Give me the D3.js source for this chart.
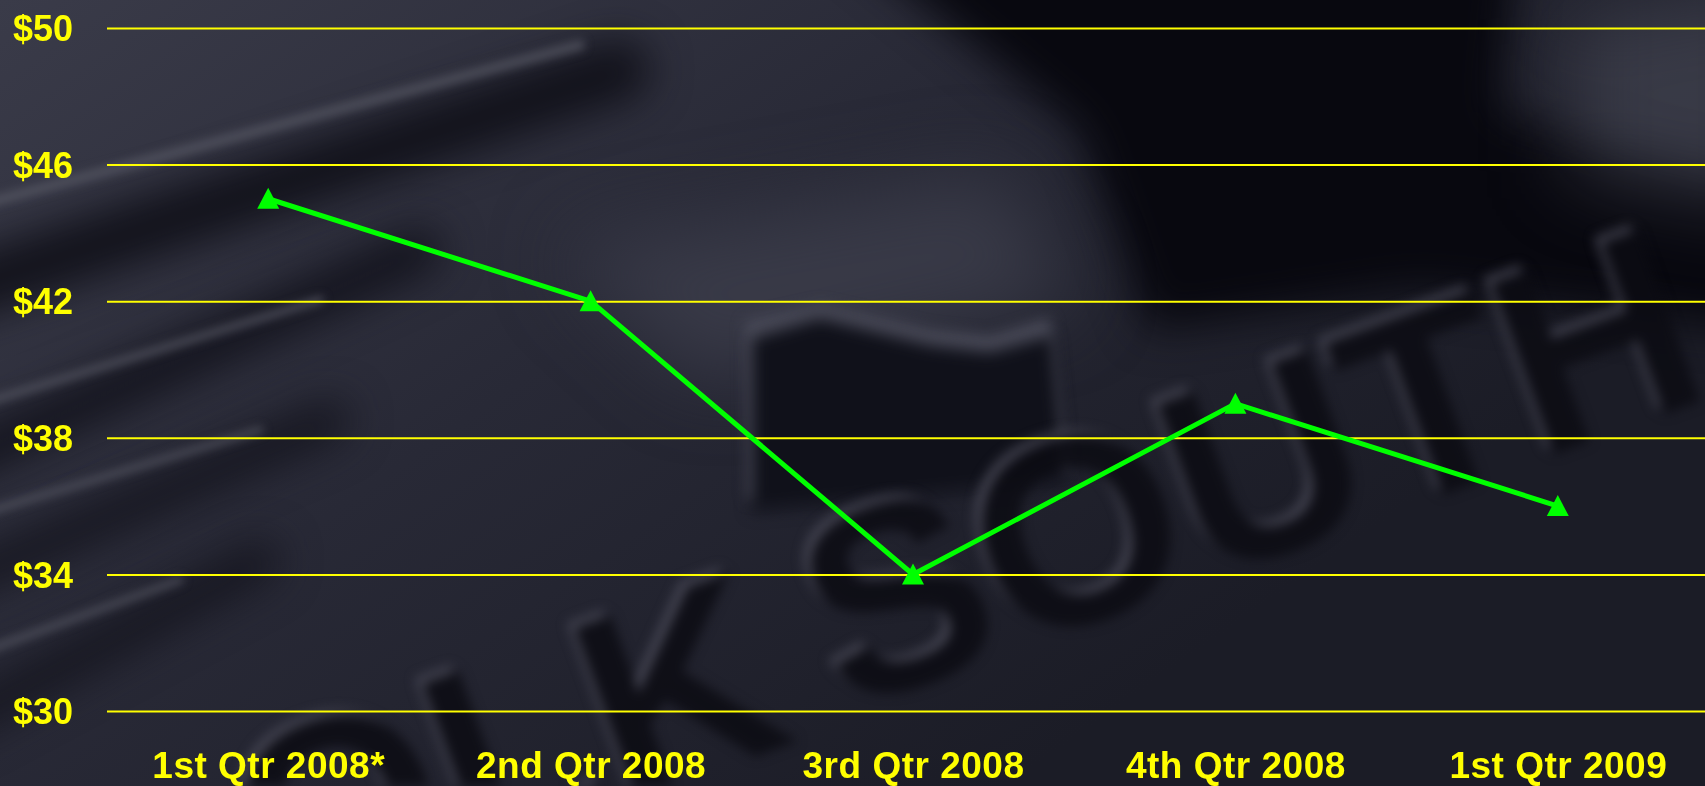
<!DOCTYPE html>
<html>
<head>
<meta charset="utf-8">
<script src="https://cdn.jsdelivr.net/npm/d3@7"></script>
<style>
  html, body { margin: 0; padding: 0; background: #1c1d28; overflow: hidden; }
  #wrap { position: relative; width: 1705px; height: 786px; }
  #bgc, #chart { position: absolute; left: 0; top: 0; display: block; }
</style>
</head>
<body>
<div id="wrap">
  <canvas id="bgc" width="1705" height="786"></canvas>
  <svg id="chart" width="1705" height="786"></svg>
</div>
<script>
// ── Data ────────────────────────────────────────────────────────────────
const quarters = ['1st Qtr 2008*', '2nd Qtr 2008', '3rd Qtr 2008', '4th Qtr 2008', '1st Qtr 2009'];
const prices   = [45, 42, 34, 39, 36];
const yTicks   = [30, 34, 38, 42, 46, 50];

const W = 1705, H = 786;
const font = 'Liberation Sans, Arial, Helvetica, sans-serif';

// ── Background: dark blurred slide picture, painted on a canvas ────────
(function drawBackground() {
  const ctx = document.getElementById('bgc').getContext('2d');
  const g = ctx.createLinearGradient(0, 0, 700, 1000);
  g.addColorStop(0, '#3a3b49');
  g.addColorStop(0.5, '#282936');
  g.addColorStop(1, '#1b1c26');
  ctx.fillStyle = g;
  ctx.fillRect(0, 0, W, H);

  const poly = (pts, fill, blurPx, alpha = 1) => {
    ctx.save();
    ctx.filter = `blur(${blurPx}px)`;
    ctx.globalAlpha = alpha;
    ctx.fillStyle = fill;
    ctx.beginPath();
    pts.forEach(([px, py], i) => i ? ctx.lineTo(px, py) : ctx.moveTo(px, py));
    ctx.closePath();
    ctx.fill();
    ctx.restore();
  };
  const streak = (x1, y1, x2, y2, w, c, blurPx, alpha) => {
    ctx.save();
    ctx.filter = `blur(${blurPx}px)`;
    ctx.globalAlpha = alpha;
    ctx.strokeStyle = c; ctx.lineWidth = w; ctx.lineCap = 'round';
    ctx.beginPath(); ctx.moveTo(x1, y1); ctx.lineTo(x2, y2); ctx.stroke();
    ctx.restore();
  };

  // dark upper-right region and lighter corner
  poly([[820, -80], [1520, -80], [1500, 110], [1780, 190], [1780, 330], [1420, 290], [1150, 330], [1080, 130]], '#08080f', 22);
  poly([[1570, 20], [1780, -20], [1780, 210], [1570, 170]], '#4a4b58', 40, 0.6);
  // lighter plane in the middle
  poly([[560, 250], [1000, 170], [1080, 300], [700, 380]], '#3d3e4c', 40, 0.8);
  // logo oval: light rim + dark body
  poly([[745, 322], [820, 305], [930, 330], [990, 336], [1050, 318], [1066, 470], [748, 500]], '#4b4c5a', 7);
  poly([[752, 338], [820, 318], [930, 345], [990, 352], [1052, 335], [1066, 482], [752, 512]], '#10111a', 8);

  // dark bands and light streaks on the left
  streak(-40, 290, 620, 70, 60, '#0a0a12', 20, 0.8);
  streak(-40, 460, 420, 250, 45, '#0d0d15', 20, 0.8);
  streak(-40, 580, 330, 420, 40, '#101019', 20, 0.8);
  streak(-40, 720, 260, 560, 40, '#11121a', 20, 0.8);
  streak(-40, 210, 580, 45, 10, '#585966', 5, 0.75);
  streak(-40, 410, 320, 300, 8, '#585966', 5, 0.75);
  streak(-40, 520, 260, 430, 7, '#585966', 5, 0.75);
  streak(-40, 660, 180, 580, 7, '#585966', 5, 0.75);

  // big logo letters: drawn crisp off-screen, then blurred onto the page
  const off = document.createElement('canvas');
  off.width = W; off.height = H;
  const o = off.getContext('2d');
  const letters = (x0, y0, align, txt) => {
    o.save();
    o.translate(x0, y0);
    o.rotate(-20 * Math.PI / 180);
    o.font = `bold 265px ${font}`;
    o.textAlign = align;
    o.fillStyle = '#50515f';
    o.fillText(txt, -5, -7);
    o.fillStyle = '#0c0c13';
    o.fillText(txt, 0, 0);
    o.restore();
  };
  letters(800, 740, 'right', 'OLK');
  letters(845, 712, 'left', 'SOUTH');
  ctx.save();
  ctx.filter = 'blur(6px)';
  ctx.globalAlpha = 0.85;
  ctx.drawImage(off, 0, 0);
  ctx.restore();
})();

// ── Chart ───────────────────────────────────────────────────────────────
const svg = d3.select('#chart');
const left = 107;
const x = d3.scalePoint().domain(quarters).range([left, 1719]).padding(0.5);
const y = d3.scaleLinear().domain([30, 50]).range([711, 28]);

// gridlines + y labels
const yAxis = d3.axisLeft(y).tickValues(yTicks).tickSize(-(W - left)).tickFormat(d => '$' + d);
const gy = svg.append('g').attr('transform', `translate(${left},0)`).call(yAxis);
gy.select('.domain').remove();
gy.selectAll('.tick line').attr('stroke', '#ffff00').attr('stroke-width', 2);
gy.selectAll('.tick text')
  .attr('x', -34).attr('dy', '0.35em')
  .attr('fill', '#ffff00').attr('font-family', font).attr('font-weight', 'bold').attr('font-size', 36)
  .attr('text-anchor', 'end');

// x labels
const xAxis = d3.axisBottom(x).tickSize(0).tickPadding(0);
const gx = svg.append('g').attr('transform', 'translate(0,750)').call(xAxis);
gx.select('.domain').remove();
gx.selectAll('.tick text')
  .attr('y', 28).attr('dy', 0)
  .attr('fill', '#ffff00').attr('font-family', font).attr('font-weight', 'bold').attr('font-size', 37)
  .attr('letter-spacing', 0.5);

// line + triangle markers
const data = quarters.map((q, i) => ({ q, v: prices[i] }));
svg.append('path').datum(data)
  .attr('fill', 'none').attr('stroke', '#00ff00').attr('stroke-width', 5)
  .attr('d', d3.line().x(d => x(d.q)).y(d => y(d.v)));

svg.append('g').selectAll('path').data(data).join('path')
  .attr('transform', d => `translate(${x(d.q)},${y(d.v)})`)
  .attr('d', 'M0,-11 L11,10 L-11,10 Z')
  .attr('fill', '#00ff00');
</script>
</body>
</html>
